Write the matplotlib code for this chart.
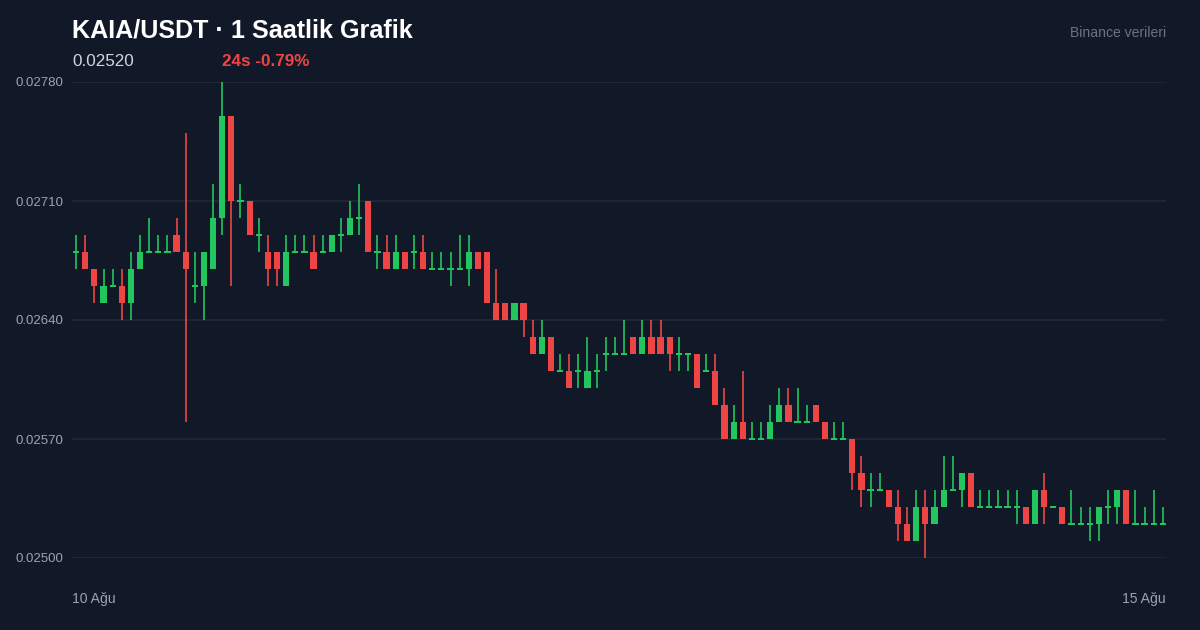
import matplotlib
matplotlib.use("Agg")
import matplotlib.pyplot as plt
import numpy as np
plt.rcParams['font.family'] = ['Liberation Sans', 'DejaVu Sans']

# Prices in units of 0.0001 above 0.0250
opens  = [18,18,17,15,16,16,15,17,18,18,18,19,18,16,16,17,20,26,21,21,
          19,18,18,16,18,18,18,18,18,19,19,20,21,18,18,17,18,18,18,17,
          17,17,17,17,18,18,15,15,14,15,13,12,13,11,11,11,10,11,12,12,
          12,13,12,13,13,13,12,12,12,11,11,9,7,8,7,7,7,8,9,8,
          8,9,8,7,7,7,5,4,4,4,3,2,1,3,2,3,4,4,5,3,
          3,3,3,3,3,2,4,3,3,2,2,2,2,3,3,4,2,2,2,2]
closes = [18,17,16,16,16,15,17,18,18,18,18,18,17,16,18,20,26,21,21,19,
          19,17,17,18,18,18,17,18,19,19,20,20,18,18,17,18,17,18,17,17,
          17,17,17,18,17,15,14,14,15,14,12,13,11,11,10,11,11,11,12,12,
          12,12,13,12,12,12,12,12,10,11,9,7,8,7,7,7,8,9,8,8,
          8,8,7,7,7,5,4,4,4,3,2,1,3,2,3,4,4,5,3,3,
          3,3,3,3,2,4,3,3,2,2,2,2,3,3,4,2,2,2,2,2]
highs  = [19,19,17,17,17,17,18,19,20,19,19,20,25,18,18,22,28,26,22,21,
          20,19,18,19,19,19,19,19,19,20,21,22,21,19,19,19,18,19,19,18,
          18,18,19,19,18,18,17,15,15,15,14,14,13,12,12,12,13,12,13,13,
          14,13,14,14,14,13,13,12,12,12,12,10,9,11,8,8,9,10,10,10,
          9,9,8,8,8,7,6,5,5,4,4,3,4,4,4,6,6,5,5,4,
          4,4,4,4,3,4,5,3,3,4,3,3,3,4,4,4,4,3,4,3]
lows   = [17,17,15,15,16,14,14,17,18,18,18,18,8,15,14,17,19,16,20,19,
          18,16,16,16,18,18,17,18,18,18,19,19,18,17,17,17,17,17,17,17,
          17,16,17,16,17,15,14,14,14,13,12,12,11,11,10,10,10,10,11,12,
          12,12,12,12,12,11,11,11,10,11,9,7,7,7,7,7,7,8,8,8,
          8,8,8,7,7,4,3,3,4,3,1,1,1,0,2,3,4,3,3,3,
          3,3,3,2,3,2,2,3,3,2,2,1,1,2,2,2,2,2,2,2]
base, step = 0.0250, 0.0001
yticks = [0.02780, 0.02710, 0.02640, 0.02570, 0.02500]

BG = "#111827"; GREEN = "#22c55e"; RED = "#ef4444"; GRID = "#1f2937"
fig = plt.figure(figsize=(12, 6.3), dpi=100, facecolor=BG)
ax = fig.add_axes([72/1200, (630-558)/630, (1166-72)/1200, (558-82)/630], facecolor=BG)

o = base + step*np.array(opens); c = base + step*np.array(closes)
h = base + step*np.array(highs); l = base + step*np.array(lows)
x = np.arange(len(o))
col = np.where(c >= o, GREEN, RED)
ax.vlines(x, l, h, colors=col, linewidth=1.2, clip_on=False, zorder=2)
bot = np.minimum(o, c); ht = np.abs(c - o)
doji = ht == 0
ax.bar(x[~doji], ht[~doji], bottom=bot[~doji], width=0.68, color=col[~doji], zorder=3, linewidth=0)
ax.bar(x[doji], 0.0000075, bottom=bot[doji]-0.0000037, width=0.68, color=col[doji], zorder=3, linewidth=0)

ax.set_xlim(-0.45, len(o)-0.65)
ax.set_ylim(0.02500, 0.02780)
ax.set_yticks(yticks)
ax.set_yticklabels([f"{v:.5f}" for v in yticks], color="#9ca3af", fontsize=9.5)
ax.tick_params(axis="y", length=0, pad=6)
ax.set_xticks([])
ax.grid(axis="y", color=GRID, linewidth=1.2)
for s in ax.spines.values(): s.set_visible(False)

fig.text(72/1200, 1-30/630, "KAIA/USDT · 1 Saatlik Grafik", color="white", fontsize=18.1, fontweight="bold", va="center")
fig.text(72/1200, 1-61/630, "0.02520", color="#d1d5db", fontsize=12.3, va="center")
fig.text(222/1200, 1-61/630, "24s -0.79%", color=RED, fontsize=12.3, fontweight="bold", va="center")
fig.text(1166/1200, 1-33/630, "Binance verileri", color="#6b7280", fontsize=10.1, va="center", ha="right")
fig.text(72/1200, 1-599/630, "10 Ağu", color="#9ca3af", fontsize=10.1, va="center")
fig.text(1166/1200, 1-599/630, "15 Ağu", color="#9ca3af", fontsize=10.1, va="center", ha="right")
fig.savefig("out.png", facecolor=BG)
